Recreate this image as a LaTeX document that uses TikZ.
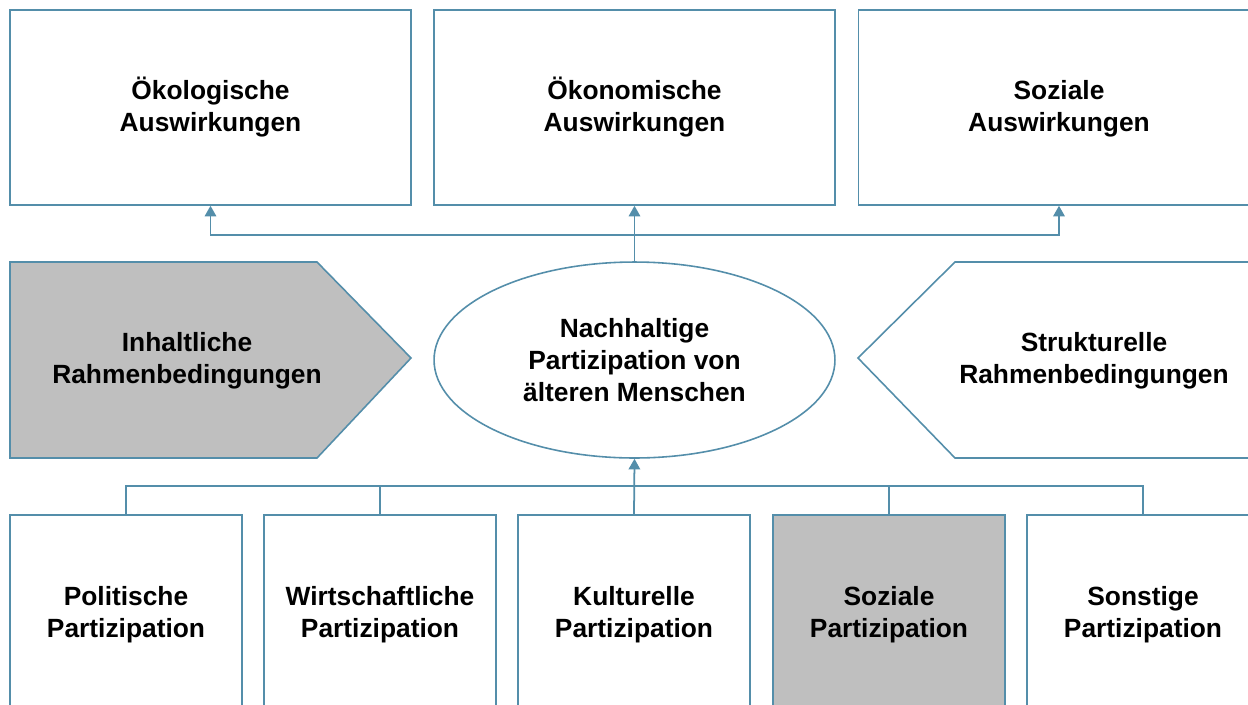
\documentclass[tikz,border=0pt]{standalone}
\usepackage{fontspec}
\setmainfont{Liberation Sans}
\usetikzlibrary{arrows.meta,shapes.geometric}

\definecolor{linie}{RGB}{84,142,170}
\definecolor{grau}{RGB}{191,191,191}

\tikzset{
    box/.style={draw=linie, line width=0.9pt, fill=white, align=center,
        font=\bfseries\fontsize{15}{18.2}\selectfont, inner sep=0pt},
    topbox/.style={box, minimum width=8.02cm, minimum height=3.9cm},
    botbox/.style={box, minimum width=4.64cm, minimum height=4cm},
    txt/.style={align=center, font=\bfseries\fontsize{15}{18.2}\selectfont},
    conn/.style={draw=linie, line width=1pt},
    pfeil/.style={conn, -{Triangle[width=6.5pt,length=6pt]}}
}

\begin{document}
\begin{tikzpicture}[x=0.02cm, y=-0.02cm]
    \useasboundingbox (0,0) rectangle (1248,704);
    \fill[white] (0,0) rectangle (1248,704);

    % obere Reihe
    \node[topbox] (oeko) at (210.5,107.5) {Ökologische\\Auswirkungen\vphantom{g}};
    \node[topbox] (wirt) at (634.5,107.5) {Ökonomische\\Auswirkungen\vphantom{g}};
    \node[topbox] (soz) at (1059,107.5) {\vphantom{Ö}Soziale\\Auswirkungen\vphantom{g}};

    % mittlere Reihe
    \draw[linie, line width=0.9pt, fill=grau] (10,262) -- (317,262) -- (411,358) -- (317,458) -- (10,458) -- cycle;
    \node[txt] (inhalt) at (187,361) {Inhaltliche\\Rahmenbedingungen};
    \draw[linie, line width=0.9pt, fill=white] (1270,262) -- (955,262) -- (858,358) -- (955,458) -- (1270,458);
    \node[txt] (struktur) at (1094,361) {Strukturelle\\Rahmenbedingungen};
    \node[box, ellipse, minimum width=8.02cm, minimum height=3.92cm] (ell) at (634.5,360) {Nachhaltige\\Partizipation von\\älteren Menschen};

    % untere Reihe
    \node[botbox] (pol) at (126,615) {Politische\\Partizipation};
    \node[botbox] (wi) at (380,615) {Wirtschaftliche\\Partizipation};
    \node[botbox] (kul) at (634,615) {Kulturelle\\Partizipation};
    \node[botbox, fill=grau] (sp) at (889,615) {Soziale\\Partizipation};
    \node[botbox] (son) at (1143,615) {Sonstige\\Partizipation};

    % Verbindungen oben
    \coordinate (bus) at (634.5,235);
    \draw[conn] (ell.north) -- (bus);
    \draw[pfeil] (bus) -- (wirt.south);
    \draw[pfeil] (bus) -| (oeko.south);
    \draw[pfeil] (bus) -| (soz.south);

    % Verbindungen unten
    \coordinate (busb) at (634,486);
    \draw[conn] (pol.north) |- (busb);
    \draw[conn] (wi.north) |- (busb);
    \draw[conn] (sp.north) |- (busb);
    \draw[conn] (son.north) |- (busb);
    \draw[pfeil] (kul.north) -- (ell.south);
\end{tikzpicture}
\end{document}
